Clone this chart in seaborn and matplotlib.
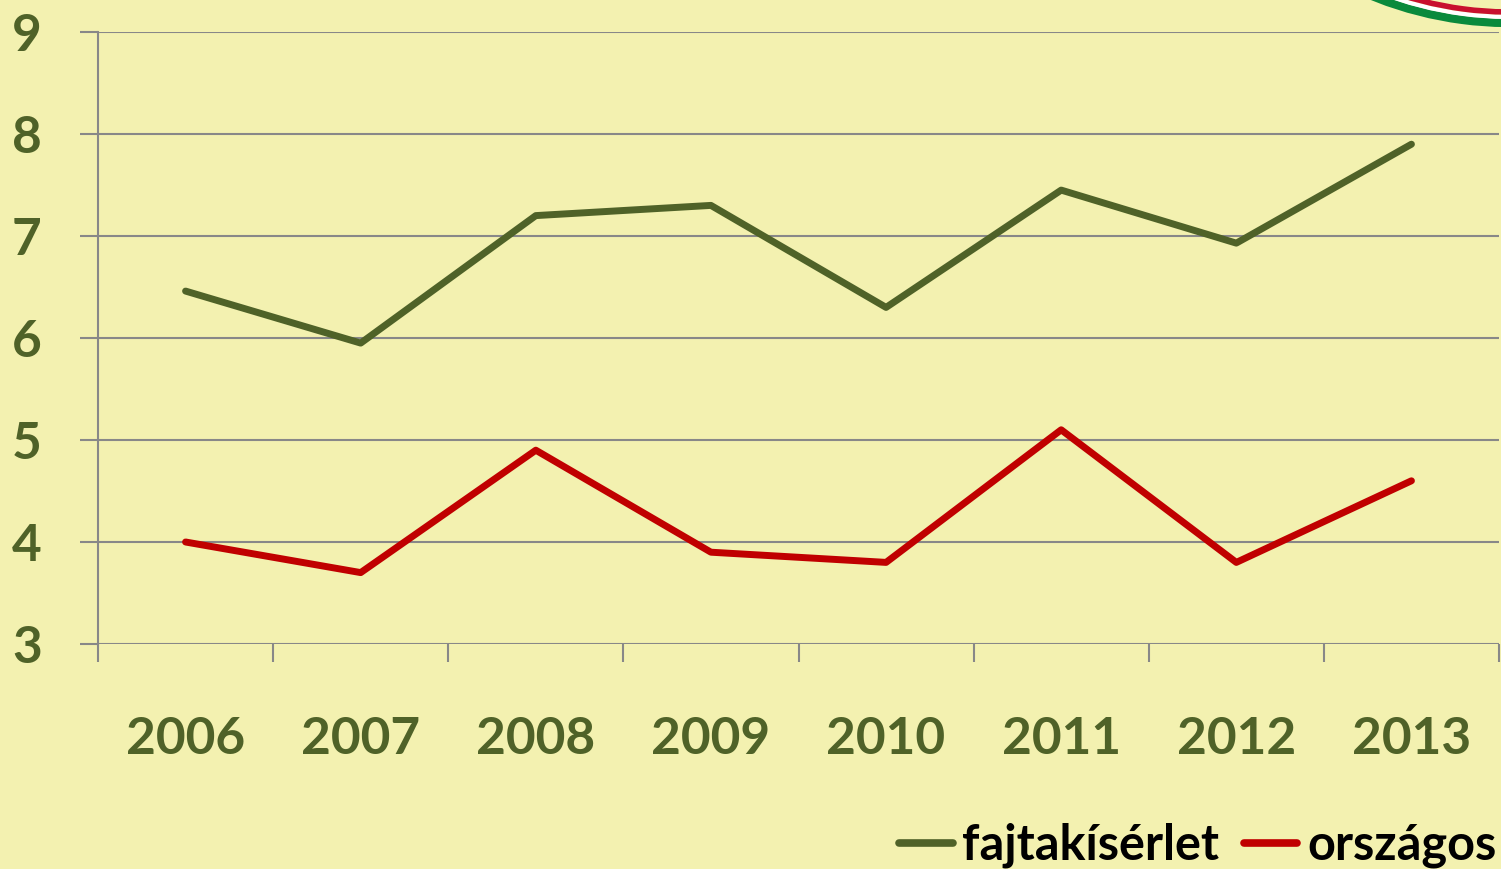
import pandas as pd
import numpy as np
import matplotlib
matplotlib.use("Agg")
import matplotlib.pyplot as plt
from matplotlib.patches import Arc
from matplotlib.lines import Line2D
import seaborn as sns

# Data
years = ["2006", "2007", "2008", "2009", "2010", "2011", "2012", "2013"]
fajtakiserlet = [6.46, 5.95, 7.2, 7.3, 6.3, 7.45, 6.93, 7.9]
orszagos = [4.0, 3.7, 4.9, 3.9, 3.8, 5.1, 3.8, 4.6]
series_names = ["fajtakísérlet", "országos"]
y_ticks = [3, 4, 5, 6, 7, 8, 9]

green = "#4F6228"
red = "#C00000"
bg = "#F3F1B0"
grid_col = "#888888"

df = pd.DataFrame({
    "year": years * 2,
    "value": fajtakiserlet + orszagos,
    "series": [series_names[0]] * len(years) + [series_names[1]] * len(years),
})

sns.set_theme(style="white")
plt.rcParams["font.family"] = ["Lato", "DejaVu Sans"]

fig = plt.figure(figsize=(15.01, 8.69), dpi=100, facecolor=bg)
ax = fig.add_axes([98 / 1501, 1 - 644 / 869, 1401 / 1501, 612 / 869])
ax.set_facecolor(bg)

sns.lineplot(data=df, x="year", y="value", hue="series",
             palette=[green, red], linewidth=5, ax=ax, legend=False, sort=False)

# axes, grid and ticks
ax.set_ylim(3, 9)
ax.set_xlim(-0.5, len(years) - 0.5)
ax.set_yticks(y_ticks)
ax.set_yticklabels([str(t) for t in y_ticks], fontsize=37, fontweight="bold",
                   color=green, ha="left")
ax.set_xticks(range(len(years)))
ax.set_xticklabels(years, fontsize=37, fontweight="bold", color=green)
ax.set_xticks(np.arange(-0.5, len(years)), minor=True)
ax.grid(axis="y", color=grid_col, linewidth=1.5)
ax.set_axisbelow(True)
ax.tick_params(axis="x", which="major", bottom=True, length=0, pad=52)
ax.tick_params(axis="x", which="minor", bottom=True, length=13, width=1.5, color=grid_col)
ax.tick_params(axis="y", left=True, length=13, width=1.5, color=grid_col, pad=49)
for side in ["top", "right", "bottom"]:
    ax.spines[side].set_visible(False)
ax.spines["left"].set_color(grid_col)
ax.spines["left"].set_linewidth(1.5)
ax.set_xlabel("")
ax.set_ylabel("")

# legend bottom right
handles = [Line2D([], [], color=green, linewidth=5.5, solid_capstyle="round"),
           Line2D([], [], color=red, linewidth=5.5, solid_capstyle="round")]
fig.legend(handles, series_names, loc="lower right", bbox_to_anchor=(1.013, -0.027),
           ncol=2, frameon=False, borderpad=0, handlelength=1.1, handletextpad=0.2,
           columnspacing=0.5, labelcolor="black",
           prop={"size": 35, "weight": "bold"})

# decorative flag arc in top-right corner (display coords, y up)
cx, cy, r0 = 1510, 869 + 344, 367
for r_off, col, lw in [(0, "#0A8A3C", 6), (6, "white", 3), (11, "#C8102E", 4)]:
    rr = r0 - r_off
    arc = Arc((cx, cy), 2 * rr, 2 * rr, theta1=235, theta2=290,
              color=col, linewidth=lw, transform=None)
    fig.patches.append(arc)

fig.savefig("out.png", dpi=100, facecolor=bg)
